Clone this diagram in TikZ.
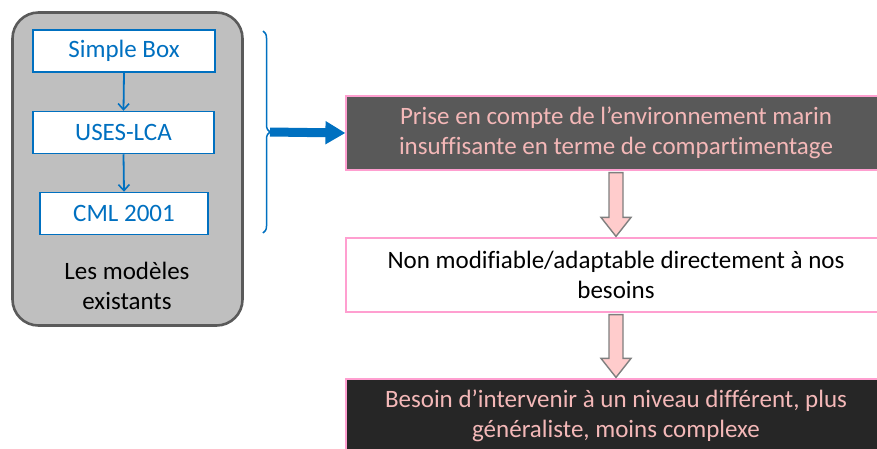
\documentclass[tikz,border=0pt]{standalone}
\usepackage{fontspec}
\setmainfont{Carlito}[Ligatures=NoCommon]
\usetikzlibrary{arrows.meta,decorations.pathreplacing,calc}
\definecolor{bblue}{HTML}{0070C0}
\definecolor{pinkb}{HTML}{FF9FD0}
\definecolor{pinkt}{HTML}{F4B8B8}
\definecolor{arrfill}{HTML}{FFCCCC}
\definecolor{arrline}{HTML}{7F7F7F}
\definecolor{gfill}{HTML}{BFBFBF}
\definecolor{gline}{HTML}{5A5A5A}
\definecolor{dgrey}{HTML}{595959}
\definecolor{blk}{HTML}{262626}
\tikzset{
  model/.style={draw=bblue, line width=1.5pt, fill=white, text=bblue, font=\fontsize{25}{30}\selectfont, minimum height=42pt, inner sep=0pt},
  flow/.style={draw=pinkb, line width=1.2pt, minimum width=540pt, minimum height=74pt, align=center, font=\fontsize{25}{30}\selectfont, inner sep=0pt},
  small/.style={-{Straight Barb[length=6pt,width=11pt,line width=1.6pt]}, draw=bblue, line width=1.8pt},
  hollow/.style={draw=arrline, fill=arrfill, line width=1.4pt, line join=miter},
}
\begin{document}
\begin{tikzpicture}[x=1pt,y=-1pt]
\useasboundingbox (0,0) rectangle (877,448);
\clip (0,0) rectangle (877,448);
% container
\node[draw=gline, fill=gfill, line width=2.6pt, rounded corners=26pt, minimum width=230pt, minimum height=313pt, inner sep=0pt] (cont) at (127.5,169) {};
\node[model, minimum width=182pt] (sb) at (124,51) {Simple Box};
\node[model, minimum width=181pt] (uses) at (123.5,132.5) {USES-LCA};
\node[model, minimum width=168pt] (cml) at (124,213.5) {CML 2001};
\node[align=center, font=\fontsize{25}{30}\selectfont, text=black] (lbl) at (127,286) {Les modèles\\existants};
\draw[small] (sb.south) -- (uses.north);
\draw[small] (uses.south) -- (cml.north);
% brace
\coordinate (bt) at (263,31);
\coordinate (bb) at (263,233);
\draw[bblue, line width=1.5pt, decorate, decoration={brace, amplitude=7pt}] (bt) -- (bb);
\coordinate (tip) at (270,132);
% right flow
\node[flow, fill=dgrey, text=pinkt] (b1) at (616,133) {Prise en compte de l’environnement marin\\insuffisante en terme de compartimentage};
\node[flow, fill=white, text=black] (b2) at (616,275) {Non modifiable/adaptable directement à nos\\besoins};
\node[flow, fill=blk, text=pinkt] (b3) at (616,416) {Besoin d’intervenir à un niveau différent, plus\\généraliste, moins complexe};
\draw[bblue, line width=9pt, -{Triangle[length=20pt,width=22pt]}] (tip) -- (b1.west);
% hollow arrows
\draw[hollow] ($(b1.south)+(-7,2)$) -- ($(b1.south)+(7,2)$) -- ($(b2.north)+(7,-20)$) -- ($(b2.north)+(15,-20)$) -- ($(b2.north)+(0,-1)$) -- ($(b2.north)+(-15,-20)$) -- ($(b2.north)+(-7,-20)$) -- cycle;
\draw[hollow] ($(b2.south)+(-7,2)$) -- ($(b2.south)+(7,2)$) -- ($(b3.north)+(7,-20)$) -- ($(b3.north)+(15,-20)$) -- ($(b3.north)+(0,-1)$) -- ($(b3.north)+(-15,-20)$) -- ($(b3.north)+(-7,-20)$) -- cycle;
\end{tikzpicture}
\end{document}
